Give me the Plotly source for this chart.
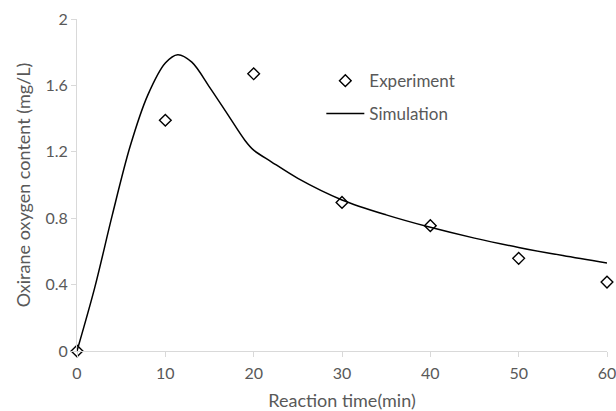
import plotly.graph_objects as go

# Experimental data
exp_time = [0, 10, 20, 30, 40, 50, 60]
exp_oxirane = [0, 1.39, 1.67, 0.895, 0.755, 0.558, 0.415]

# Simulation curve
sim_time = [0, 2, 4, 6, 8, 10, 11.4, 13, 15, 17, 19, 20, 22, 25, 30, 35, 40, 45, 50, 55, 60]
sim_oxirane = [0, 0.38, 0.82, 1.23, 1.54, 1.735, 1.785, 1.74, 1.59, 1.43, 1.27, 1.21, 1.14, 1.04, 0.91, 0.82, 0.745, 0.68, 0.624, 0.575, 0.53]

x_ticks = [0, 10, 20, 30, 40, 50, 60]
y_ticks = [0, 0.4, 0.8, 1.2, 1.6, 2]
y_tick_text = ["0", "0.4", "0.8", "1.2", "1.6", "2"]

FONT = "Lato, Open Sans, sans-serif"
GREY = "#595959"
AXIS = "#d9d9d9"

fig = go.Figure()
fig.add_trace(go.Scatter(
    x=exp_time, y=exp_oxirane, mode="markers", name="Experiment",
    marker=dict(symbol="diamond", size=9, color="white",
                line=dict(color="black", width=1.4)),
    cliponaxis=False, legend="legend",
))
fig.add_trace(go.Scatter(
    x=sim_time, y=sim_oxirane, mode="lines", name="Simulation",
    line=dict(color="black", width=1.5, shape="spline", smoothing=0.9),
    cliponaxis=False, legend="legend2",
))

leg_common = dict(xanchor="left", yanchor="middle", bgcolor="rgba(0,0,0,0)",
                  font=dict(size=17, color=GREY), itemwidth=38)

fig.update_layout(
    width=616, height=411,
    margin=dict(l=77, r=9, t=19, b=60),
    paper_bgcolor="white", plot_bgcolor="white",
    font=dict(family=FONT, size=16, color=GREY),
    showlegend=True,
    legend=dict(x=0.461, y=0.813, **leg_common),
    legend2=dict(x=0.461, y=0.714, **leg_common),
    xaxis=dict(range=[0, 60], tickvals=x_ticks, showgrid=False, zeroline=False,
               showline=True, linecolor=AXIS, linewidth=1, automargin=False,
               ticks="outside", ticklen=5, tickcolor=AXIS,
               ticklabeloverflow="allow", ticklabelstandoff=3,
               tickfont=dict(size=16, color=GREY),
               title=dict(text="Reaction time(min)", font=dict(size=18, color=GREY), standoff=14)),
    yaxis=dict(range=[0, 2], tickvals=y_ticks, ticktext=y_tick_text, showgrid=False, zeroline=False,
               showline=True, linecolor=AXIS, linewidth=1, automargin=False,
               ticks="outside", ticklen=5, tickcolor=AXIS,
               ticklabeloverflow="allow",
               tickfont=dict(size=16, color=GREY),
               title=dict(text="Oxirane oxygen content (mg/L)", font=dict(size=18, color=GREY), standoff=10)),
)

fig.write_html("out.html")
